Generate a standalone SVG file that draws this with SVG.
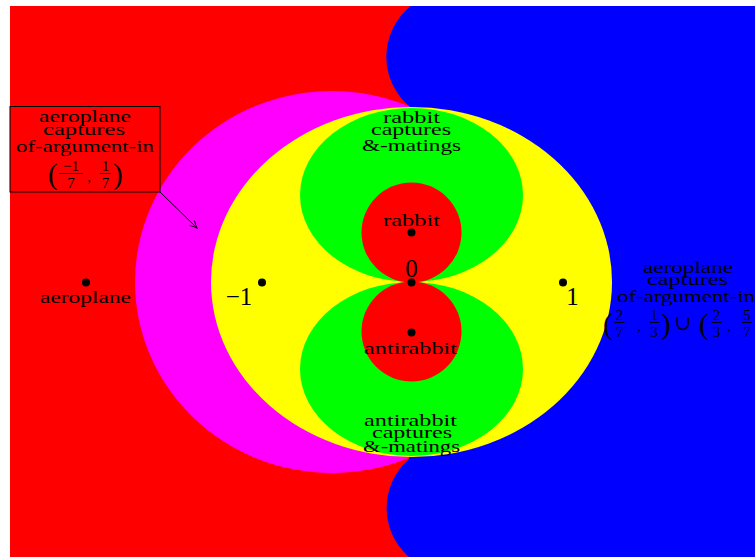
<svg xmlns="http://www.w3.org/2000/svg" width="755" height="557" viewBox="0 0 755 557">
<style>
  text { font-family: "Liberation Serif", "DejaVu Serif", serif; fill: #000; }
  .lbl { font-size: 16px; }
  .num { font-size: 25px; text-anchor: middle; }
  .frac { font-size: 15px; text-anchor: middle; }
  .par { font-size: 29px; }
  .bar { stroke: #000; stroke-width: 0.9; }
  .dot { fill: #000; }
</style>
<defs>
  <marker id="arr" viewBox="0 0 10 10" refX="9" refY="5" markerWidth="10" markerHeight="10" markerUnits="userSpaceOnUse" orient="auto">
    <path d="M2,1.5 Q6,4 9,5 Q6,6 2,8.5" fill="none" stroke="#000" stroke-width="1"/>
  </marker>
</defs>

<g id="regions">
  <rect id="bg-red" x="10" y="6" width="745" height="551" fill="#ff0000"/>
  <ellipse id="magenta" cx="332" cy="282" rx="197" ry="191" fill="#ff00ff"/>
  <path id="blue" d="M755,6 H410.7 A65,65 0 0 0 410.1,107 L408.9,459 A65,65 0 0 0 408.9,557 H755 Z" fill="#0000ff"/>
  <ellipse id="yellow" cx="411.5" cy="282" rx="200.5" ry="175" fill="#ffff00"/>
  <ellipse id="green-top" cx="411.5" cy="195" rx="111.5" ry="87" fill="#00ff00"/>
  <ellipse id="green-bottom" cx="411.5" cy="369" rx="111.5" ry="87" fill="#00ff00"/>
  <circle id="red-top" cx="411.5" cy="232.5" r="50" fill="#ff0000"/>
  <circle id="red-bottom" cx="411.5" cy="331.5" r="50" fill="#ff0000"/>
</g>

<g id="connectors">
  <line x1="160" y1="192" x2="197" y2="228" stroke="#000" stroke-width="1" marker-end="url(#arr)"/>
</g>

<g id="node-aeroplane">
  <circle class="dot" cx="86" cy="282.5" r="4"/>
  <text class="lbl" x="40" y="303" textLength="91" lengthAdjust="spacingAndGlyphs">aeroplane</text>
</g>
<g id="node-minus1">
  <circle class="dot" cx="262" cy="282.5" r="4"/>
  <text class="num" x="239" y="305">−1</text>
</g>
<g id="node-zero">
  <circle class="dot" cx="411.5" cy="282.5" r="4"/>
  <text class="num" x="411.5" y="277">0</text>
</g>
<g id="node-one">
  <circle class="dot" cx="563" cy="282.5" r="4"/>
  <text class="num" x="572.5" y="305">1</text>
</g>
<g id="node-rabbit">
  <circle class="dot" cx="411.5" cy="232.5" r="4"/>
  <text class="lbl" x="383" y="226" textLength="57" lengthAdjust="spacingAndGlyphs">rabbit</text>
</g>
<g id="node-antirabbit">
  <circle class="dot" cx="411.5" cy="332.5" r="4"/>
  <text class="lbl" x="364" y="354" textLength="93" lengthAdjust="spacingAndGlyphs">antirabbit</text>
</g>

<g id="label-rabbit-captures">
  <text class="lbl" x="383" y="123" textLength="57" lengthAdjust="spacingAndGlyphs">rabbit</text>
  <text class="lbl" x="371" y="135" textLength="80" lengthAdjust="spacingAndGlyphs">captures</text>
  <text class="lbl" x="362" y="151" textLength="99" lengthAdjust="spacingAndGlyphs">&amp;-matings</text>
</g>

<g id="label-antirabbit-captures">
  <text class="lbl" x="364" y="426" textLength="93" lengthAdjust="spacingAndGlyphs">antirabbit</text>
  <text class="lbl" x="372" y="438" textLength="80" lengthAdjust="spacingAndGlyphs">captures</text>
  <text class="lbl" x="363" y="452" textLength="97" lengthAdjust="spacingAndGlyphs">&amp;-matings</text>
</g>

<g id="label-aeroplane-box">
  <rect x="10" y="106.5" width="150" height="85.5" fill="none" stroke="#000" stroke-width="1"/>
  <text class="lbl" x="39" y="122" textLength="92" lengthAdjust="spacingAndGlyphs">aeroplane</text>
  <text class="lbl" x="43" y="135" textLength="82" lengthAdjust="spacingAndGlyphs">captures</text>
  <text class="lbl" x="16" y="152" textLength="138" lengthAdjust="spacingAndGlyphs">of-argument-in</text>
  <text class="par" x="48" y="184">(</text>
  <text class="frac" x="71" y="171">−1</text>
  <line class="bar" x1="59" y1="173.5" x2="83" y2="173.5"/>
  <text class="frac" x="71" y="188">7</text>
  <text class="frac" x="89" y="182">,</text>
  <text class="frac" x="105.5" y="171">1</text>
  <line class="bar" x1="100" y1="173.5" x2="111" y2="173.5"/>
  <text class="frac" x="105.5" y="188">7</text>
  <text class="par" x="113" y="184">)</text>
</g>

<g id="label-aeroplane-right">
  <text class="lbl" x="643" y="273" textLength="90" lengthAdjust="spacingAndGlyphs">aeroplane</text>
  <text class="lbl" x="647" y="285" textLength="81" lengthAdjust="spacingAndGlyphs">captures</text>
  <text class="lbl" x="617" y="302" textLength="138" lengthAdjust="spacingAndGlyphs">of-argument-in</text>
  <text class="par" x="603" y="334">(</text>
  <text class="frac" x="619.5" y="320">2</text>
  <line class="bar" x1="614.5" y1="322.5" x2="624.5" y2="322.5"/>
  <text class="frac" x="619.5" y="337">7</text>
  <text class="frac" x="639" y="331">,</text>
  <text class="frac" x="654" y="320">1</text>
  <line class="bar" x1="649" y1="322.5" x2="659" y2="322.5"/>
  <text class="frac" x="654" y="337">3</text>
  <text class="par" x="661" y="334">)</text>
  <text x="683" y="330" style="font-size:20px;text-anchor:middle">∪</text>
  <text class="par" x="699" y="334">(</text>
  <text class="frac" x="716.5" y="320">2</text>
  <line class="bar" x1="711.5" y1="322.5" x2="721.5" y2="322.5"/>
  <text class="frac" x="716.5" y="337">3</text>
  <text class="frac" x="729" y="331">,</text>
  <text class="frac" x="747" y="320">5</text>
  <line class="bar" x1="742" y1="322.5" x2="752" y2="322.5"/>
  <text class="frac" x="747" y="337">7</text>
</g>
</svg>
